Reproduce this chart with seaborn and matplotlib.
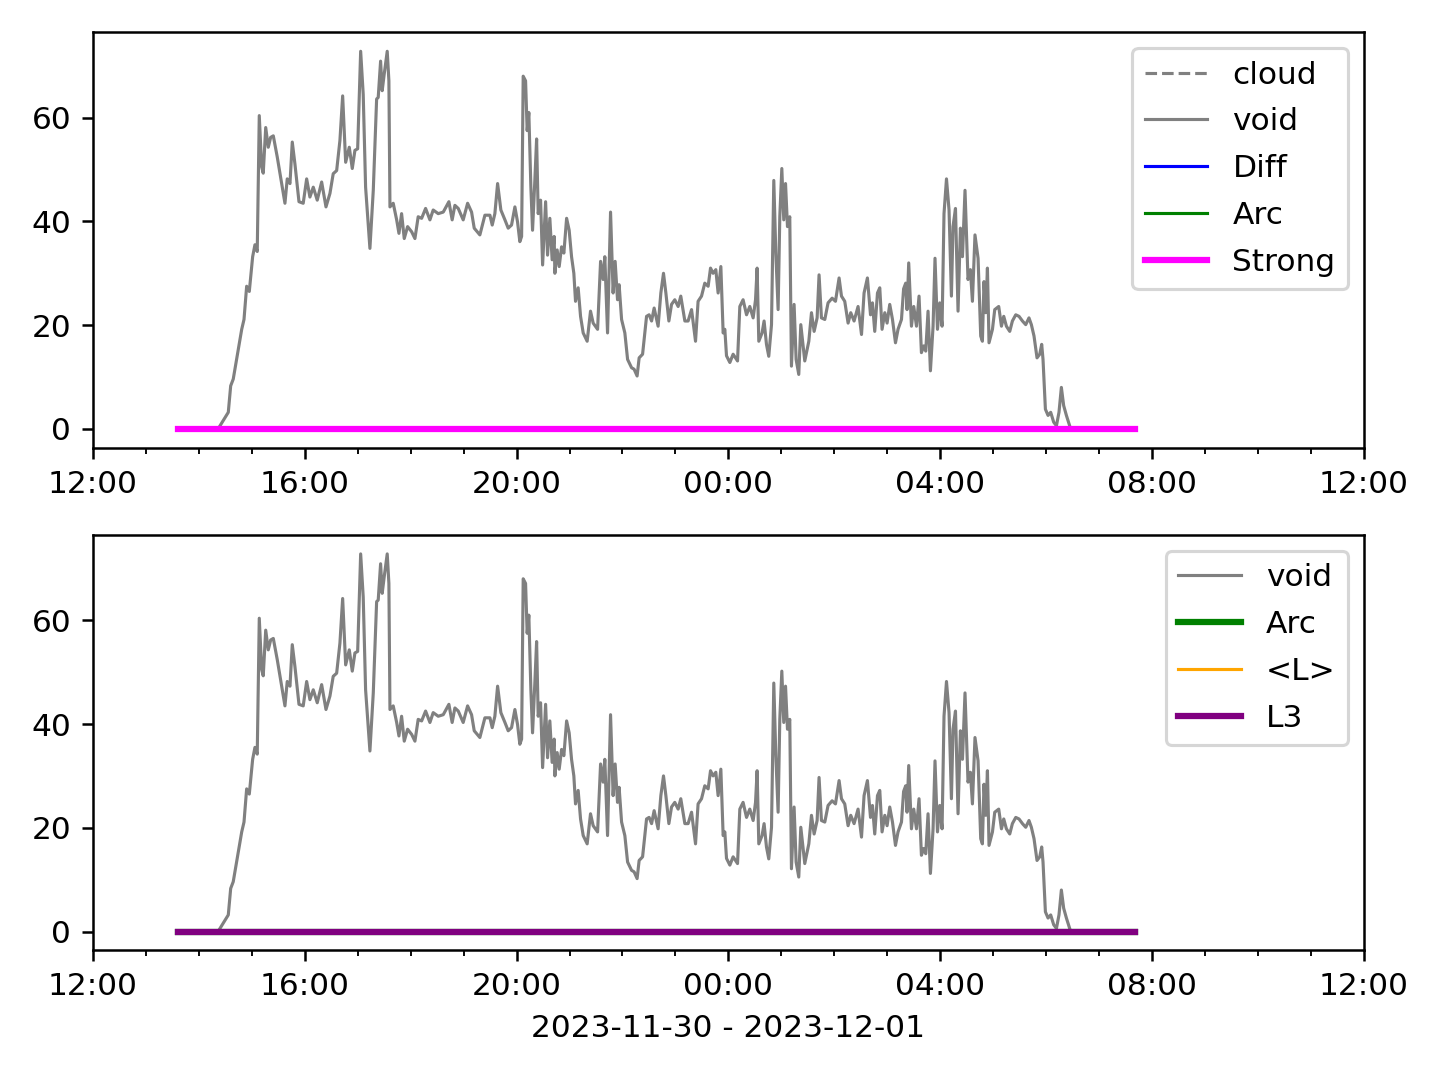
import pandas as pd
import matplotlib
matplotlib.use("Agg")
import matplotlib.pyplot as plt
import matplotlib.dates as mdates
import seaborn as sns

t0 = pd.Timestamp("2023-11-30 12:00")

# void: minutes after 12:00 and values
void_min = [143.9, 153.3, 156.0, 158.9, 164.6, 168.5, 171.1, 174.1, 177.1, 180.9, 183.5, 186.1,
            188.4, 191.1, 192.9, 195.7, 198.6, 201.3, 204.3, 208.8, 213.8, 217.5, 220.1, 223.2,
            225.8, 228.8, 233.4, 238.2, 242.1, 245.8, 249.6, 254.1, 259.1, 264.0, 268.5, 272.2,
            276.1, 279.8, 282.9, 286.3, 290.4, 293.8, 296.8, 299.9, 303.3, 306.2, 308.9, 313.8,
            317.6, 321.4,
            323.2, 325.9, 327.7, 330.0, 333.4, 335.3, 336.5, 340.2, 344.1, 346.7, 349.7, 352.7,
            356.5, 361.1, 364.8, 368.5, 372.4, 376.9, 381.8, 385.5, 391.2, 396.9, 403.3, 407.0,
            410.1, 413.9, 419.5, 424.5, 429.0, 432.0, 438.4, 444.1, 449.8, 452.4, 455.4, 458.5,
            462.2, 466.8, 470.5, 474.3, 478.1, 481.1, 483.7, 485.7, 487.5, 490.2, 492.0, 493.9,
            496.2, 498.1, 500.7, 502.7, 504.5, 507.2, 509.5, 512.9, 515.1, 517.7, 520.3, 522.6,
            523.4, 526.0, 528.3, 531.0, 533.6, 536.7, 539.6, 542.3, 544.9, 546.8, 549.8, 552.5,
            555.5, 560.0, 563.8, 566.8, 571.8, 575.2, 578.1, 580.0, 583.1, 586.5, 589.4, 591.7,
            594.4, 596.2, 599.0, 602.7, 605.8, 610.3, 613.2, 616.6, 618.9, 622.8, 627.3, 630.2,
            633.0, 635.9, 640.4, 643.5, 646.5, 649.2, 652.6, 655.6, 659.3, 663.1, 666.1, 670.7,
            674.4, 678.3, 682.8, 685.7, 689.6, 693.3, 697.1, 699.8, 702.7, 705.8, 708.4, 711.5,
            714.1, 716.0, 717.9, 721.7,
            725.4, 730.4, 733.0, 736.7, 740.6, 744.3, 748.1, 750.8, 752.6, 754.5, 758.2, 760.5,
            763.2, 765.8, 768.9, 771.5, 773.8, 776.4, 778.3, 780.6, 782.8, 784.8, 787.0, 789.6,
            791.5, 794.5, 796.8, 799.8, 802.1, 806.6, 811.2, 814.2, 817.2, 820.6, 822.8, 825.5,
            829.3, 833.0, 837.6, 841.4, 845.5, 848.2, 851.9, 855.7, 858.7, 862.5, 867.0, 870.9,
            873.8, 877.6, 881.1, 883.3, 885.9, 889.0, 891.6, 894.2, 897.3, 899.9, 902.9, 906.0,
            909.4, 912.3, 916.2, 918.6,
            921.0, 922.5, 924.4, 927.5, 930.1, 933.2, 936.1, 938.8, 941.4, 943.7, 946.3, 949.0,
            952.0, 954.2, 957.0, 959.6, 962.2, 964.4, 967.2, 970.1, 972.8, 974.6, 977.4, 980.3,
            983.0, 985.3, 988.2, 991.6, 994.3, 996.6, 999.5, 1003.0, 1006.0, 1007.9, 1009.7,
            1011.7, 1013.6, 1015.4, 1019.3, 1021.9, 1026.4, 1029.5, 1032.1, 1035.1, 1038.9,
            1041.9, 1045.7, 1049.4, 1053.3, 1057.0, 1060.7, 1063.4, 1066.4, 1069.8, 1072.9,
            1075.1, 1076.6, 1079.3, 1082.3, 1085.3, 1088.7, 1091.8, 1094.7, 1097.4, 1100.0,
            1103.1, 1106.8]
void_val = [0.6, 3.2, 8.3, 9.6, 15.3, 19.2, 21.1, 27.5, 26.5, 33.2, 35.5, 34.2,
            60.4, 50.5, 49.3, 58.1, 54.3, 56.2, 56.5, 52.4, 47.3, 43.5, 48.2, 47.3,
            55.3, 51.1, 43.8, 43.5, 48.2, 44.7, 46.6, 44.1, 47.6, 42.8, 45.4, 49.2,
            49.8, 55.6, 64.2, 51.4, 54.3, 50.2, 53.7, 54.0, 72.8, 64.5, 46.6, 34.8,
            46.0, 63.6,
            63.9, 70.9, 65.2, 68.4, 72.8, 67.1, 42.8, 43.5, 40.3, 37.7, 41.5, 36.7,
            39.0, 38.0, 36.7, 40.9, 40.6, 42.5, 40.3, 42.2, 41.5, 41.8, 43.8, 40.3,
            43.1, 42.5, 40.3, 43.5, 41.8, 38.7, 37.4, 41.2, 41.2, 39.3, 41.5, 47.3,
            42.2, 40.3, 38.7, 39.3, 42.8, 39.9, 36.1, 37.1, 68.0, 67.1, 57.5, 61.0,
            46.6, 38.3, 47.9, 55.9, 41.5, 44.1, 31.6, 43.8, 33.5, 40.6, 32.6, 37.1,
            30.0, 34.5, 31.3, 35.1, 33.9, 40.6, 38.3, 33.2, 30.0, 24.6, 27.2, 21.7,
            18.5, 16.9, 22.7, 20.4, 19.2, 32.3, 28.8, 33.2, 18.5, 41.8, 26.2, 32.3,
            24.9, 27.8, 21.1, 18.5, 13.4, 11.8, 11.5, 10.2, 13.7, 14.4, 21.7, 22.0,
            20.8, 23.3, 19.8, 26.2, 30.0, 26.2, 20.8, 24.0, 24.9, 23.6, 25.6, 20.8,
            20.8, 23.0, 16.9, 24.6, 25.6, 28.1, 27.5, 31.0, 30.0, 30.7, 26.2, 31.3,
            18.5, 19.2, 14.1, 12.8,
            14.4, 13.1, 23.6, 24.9, 22.0, 23.6, 21.4, 24.9, 31.0, 16.9, 18.5, 20.8,
            16.3, 14.0, 20.1, 47.9, 33.9, 23.0, 40.9, 50.2, 40.3, 47.3, 39.0, 40.9,
            12.1, 24.0, 13.4, 10.5, 20.1, 13.1, 16.9, 22.4, 18.8, 21.4, 29.7, 21.4,
            21.1, 24.3, 25.2, 24.6, 29.1, 25.6, 24.6, 20.4, 22.4, 20.8, 23.6, 18.2,
            26.2, 29.1, 22.0, 24.3, 18.8, 26.2, 27.2, 19.2, 22.4, 20.4, 24.0, 21.1,
            16.6, 19.2, 21.1, 27.0,
            28.1, 23.0, 32.0, 19.8, 23.6, 19.8, 25.6, 14.7, 16.0, 15.0, 22.7, 11.2,
            19.8, 32.9, 19.2, 24.3, 19.8, 41.5, 48.2, 42.2, 25.6, 39.0, 42.5, 22.7,
            38.7, 33.2, 46.0, 28.8, 30.7, 24.6, 37.4, 32.9, 17.9, 16.9, 28.4,
            22.4, 31.0, 16.6, 19.2, 23.0, 23.6, 19.8, 21.7, 19.8, 18.8,
            20.8, 22.0, 21.7, 20.8, 20.1, 21.4, 20.1, 17.9, 13.7, 14.4,
            16.3, 13.4, 3.8, 2.6, 3.2, 1.3, 0.6, 3.2, 8.0, 4.5,
            2.6, 0.6]

# the other series are flat at zero over the whole run
zero_time = ["2023-11-30 13:36", "2023-12-01 07:41"]
zero_val = [0, 0]

void_df = pd.DataFrame({"time": t0 + pd.to_timedelta(void_min, unit="m"), "value": void_val})
zero_df = pd.DataFrame({"time": pd.to_datetime(zero_time), "value": zero_val})

fig, (ax1, ax2) = plt.subplots(2, 1, figsize=(6.4, 4.8), dpi=225)

sns.lineplot(data=zero_df, x="time", y="value", ax=ax1, color="grey", linestyle="--", lw=1, label="cloud")
sns.lineplot(data=void_df, x="time", y="value", ax=ax1, color="grey", lw=1, label="void")
sns.lineplot(data=zero_df, x="time", y="value", ax=ax1, color="blue", lw=1, label="Diff")
sns.lineplot(data=zero_df, x="time", y="value", ax=ax1, color="green", lw=1, label="Arc")
sns.lineplot(data=zero_df, x="time", y="value", ax=ax1, color="magenta", lw=2, label="Strong")

sns.lineplot(data=void_df, x="time", y="value", ax=ax2, color="grey", lw=1, label="void")
sns.lineplot(data=zero_df, x="time", y="value", ax=ax2, color="green", lw=2, label="Arc")
sns.lineplot(data=zero_df, x="time", y="value", ax=ax2, color="orange", lw=1, label="<L>")
sns.lineplot(data=zero_df, x="time", y="value", ax=ax2, color="purple", lw=2, label="L3")

for ax in (ax1, ax2):
    ax.set_xlim(t0, t0 + pd.Timedelta(hours=24))
    ax.xaxis.set_major_locator(mdates.HourLocator(byhour=[0, 4, 8, 12, 16, 20]))
    ax.xaxis.set_major_formatter(mdates.DateFormatter("%H:%M"))
    ax.xaxis.set_minor_locator(mdates.HourLocator())
    ax.set_ylabel("")
    ax.set_xlabel("")
    ax.legend(loc="upper right", labelspacing=0.57)

ax2.set_xlabel("2023-11-30 - 2023-12-01")

plt.subplots_adjust(left=0.0646, right=0.947, top=0.970, bottom=0.120, hspace=0.21)
plt.savefig("out.png", dpi=225)
